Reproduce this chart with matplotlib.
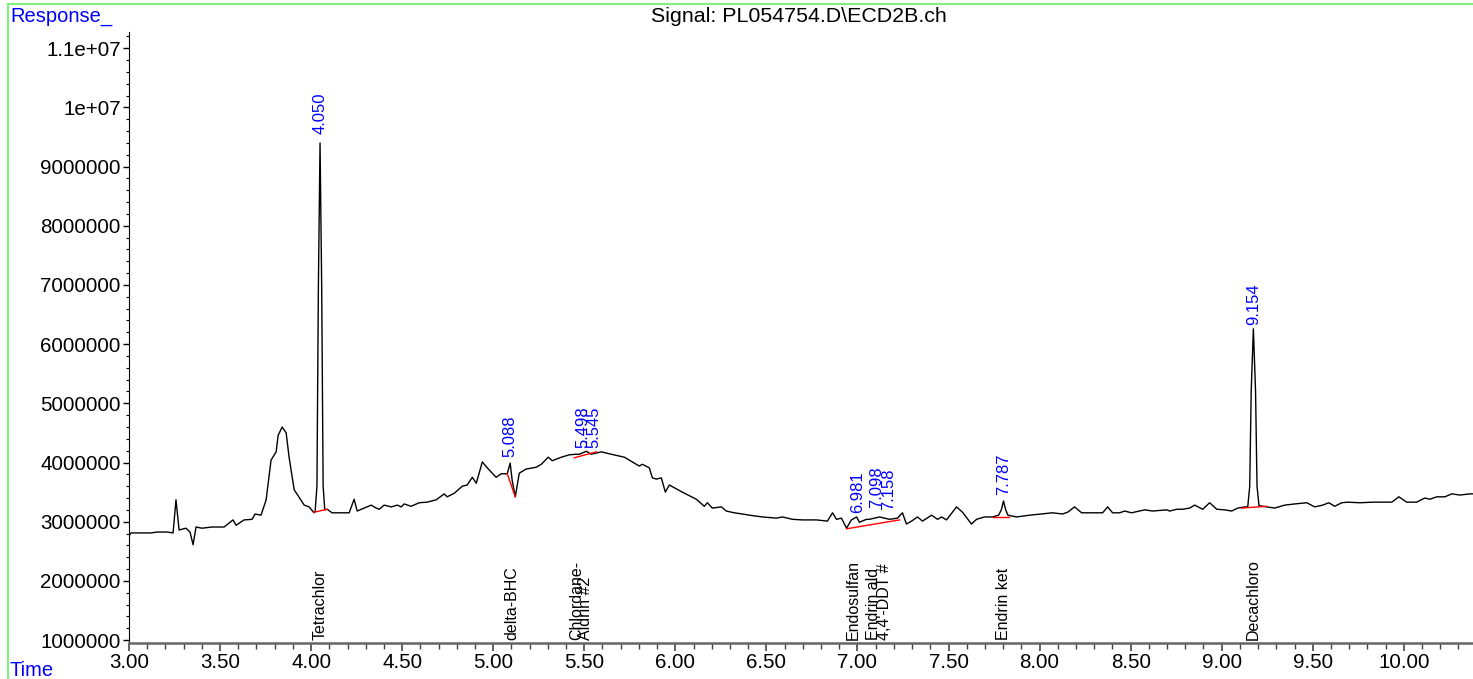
import matplotlib
matplotlib.use("Agg")
import matplotlib.pyplot as plt
from matplotlib.ticker import MultipleLocator, FuncFormatter
from matplotlib.lines import Line2D

plt.rcParams['font.family'] = ['Liberation Sans', 'DejaVu Sans']

# chromatogram trace (time in min, response)
time = [3.000, 3.011, 3.055, 3.121, 3.154, 3.209, 3.242, 3.258, 3.275, 3.313,
        3.335, 3.352, 3.368, 3.401, 3.456, 3.522, 3.571, 3.588, 3.632, 3.676,
        3.692, 3.725, 3.753, 3.780, 3.808, 3.819, 3.841, 3.863, 3.879, 3.907,
        3.962, 3.989, 4.016, 4.022, 4.032, 4.040, 4.049, 4.058, 4.066, 4.075,
        4.088, 4.115, 4.170, 4.209, 4.236, 4.253, 4.291, 4.330, 4.357, 4.374,
        4.401, 4.440, 4.473, 4.495, 4.511, 4.549, 4.593, 4.637, 4.687, 4.731,
        4.747, 4.786, 4.830, 4.857, 4.885, 4.907, 4.940, 4.967, 5.016, 5.044,
        5.077, 5.093, 5.104, 5.121, 5.143, 5.181, 5.236, 5.264, 5.302, 5.324,
        5.374, 5.418, 5.456, 5.473, 5.511, 5.538, 5.593, 5.648, 5.720, 5.764,
        5.802, 5.819, 5.857, 5.874, 5.896, 5.923, 5.945, 5.967, 6.038, 6.115,
        6.159, 6.176, 6.203, 6.253, 6.280, 6.324, 6.368, 6.407, 6.478, 6.555,
        6.588, 6.643, 6.698, 6.775, 6.835, 6.863, 6.885, 6.912, 6.940, 6.967,
        6.995, 7.011, 7.049, 7.066, 7.121, 7.176, 7.220, 7.247, 7.269, 7.297,
        7.330, 7.357, 7.407, 7.440, 7.462, 7.489, 7.544, 7.577, 7.626, 7.654,
        7.698, 7.742, 7.775, 7.790, 7.802, 7.814, 7.826, 7.874, 7.945, 8.011,
        8.071, 8.126, 8.154, 8.192, 8.231, 8.291, 8.346, 8.374, 8.401, 8.440,
        8.467, 8.505, 8.577, 8.621, 8.698, 8.714, 8.753, 8.786, 8.824, 8.852,
        8.896, 8.934, 8.973, 9.016, 9.055, 9.088, 9.126, 9.143, 9.154, 9.162,
        9.174, 9.186, 9.194, 9.205, 9.247, 9.291, 9.346, 9.401, 9.467, 9.511,
        9.555, 9.588, 9.621, 9.659, 9.692, 9.758, 9.830, 9.885, 9.934, 9.973,
        10.016, 10.071, 10.115, 10.143, 10.181, 10.225, 10.264, 10.308, 10.363, 10.380]
response = [2.76e6, 2.81e6, 2.81e6, 2.81e6, 2.825e6, 2.825e6, 2.81e6, 3.37e6, 2.86e6, 2.89e6,
            2.825e6, 2.61e6, 2.91e6, 2.89e6, 2.91e6, 2.91e6, 3.03e6, 2.94e6, 3.03e6, 3.04e6,
            3.13e6, 3.11e6, 3.37e6, 4.04e6, 4.18e6, 4.46e6, 4.60e6, 4.50e6, 4.09e6, 3.54e6,
            3.28e6, 3.25e6, 3.15e6, 3.17e6, 3.60e6, 7.00e6, 9.40e6, 7.00e6, 3.60e6, 3.20e6,
            3.21e6, 3.15e6, 3.15e6, 3.15e6, 3.38e6, 3.18e6, 3.23e6, 3.28e6, 3.23e6, 3.21e6,
            3.28e6, 3.25e6, 3.28e6, 3.25e6, 3.30e6, 3.26e6, 3.32e6, 3.33e6, 3.37e6, 3.47e6,
            3.42e6, 3.48e6, 3.60e6, 3.62e6, 3.75e6, 3.65e6, 4.01e6, 3.91e6, 3.75e6, 3.81e6,
            3.81e6, 3.99e6, 3.70e6, 3.42e6, 3.82e6, 3.89e6, 3.92e6, 3.97e6, 4.09e6, 4.03e6,
            4.09e6, 4.13e6, 4.14e6, 4.14e6, 4.19e6, 4.14e6, 4.18e6, 4.14e6, 4.09e6, 4.01e6,
            3.94e6, 3.97e6, 3.91e6, 3.74e6, 3.72e6, 3.74e6, 3.50e6, 3.62e6, 3.50e6, 3.38e6,
            3.26e6, 3.32e6, 3.23e6, 3.25e6, 3.18e6, 3.15e6, 3.13e6, 3.11e6, 3.08e6, 3.06e6,
            3.08e6, 3.04e6, 3.03e6, 3.03e6, 3.01e6, 3.15e6, 3.04e6, 3.06e6, 2.89e6, 3.03e6,
            3.08e6, 2.99e6, 3.04e6, 3.04e6, 3.08e6, 3.04e6, 3.06e6, 3.15e6, 2.96e6, 3.01e6,
            3.08e6, 3.01e6, 3.11e6, 3.04e6, 3.08e6, 3.03e6, 3.25e6, 3.16e6, 2.96e6, 3.04e6,
            3.08e6, 3.08e6, 3.11e6, 3.20e6, 3.35e6, 3.20e6, 3.11e6, 3.08e6, 3.11e6, 3.13e6,
            3.15e6, 3.13e6, 3.16e6, 3.25e6, 3.15e6, 3.15e6, 3.15e6, 3.25e6, 3.15e6, 3.15e6,
            3.18e6, 3.15e6, 3.20e6, 3.18e6, 3.20e6, 3.18e6, 3.21e6, 3.21e6, 3.23e6, 3.28e6,
            3.21e6, 3.32e6, 3.21e6, 3.20e6, 3.18e6, 3.23e6, 3.25e6, 3.25e6, 3.60e6, 5.20e6,
            6.26e6, 5.20e6, 3.60e6, 3.27e6, 3.25e6, 3.23e6, 3.28e6, 3.30e6, 3.32e6, 3.25e6,
            3.28e6, 3.32e6, 3.26e6, 3.32e6, 3.33e6, 3.32e6, 3.33e6, 3.33e6, 3.33e6, 3.42e6,
            3.33e6, 3.33e6, 3.40e6, 3.38e6, 3.42e6, 3.42e6, 3.47e6, 3.45e6, 3.47e6, 3.47e6]

# integration baselines (start time, end time, start resp, end resp)
base_t0 = [4.016, 5.077, 5.445, 6.940, 7.742, 9.110]
base_t1 = [4.088, 5.121, 5.566, 7.231, 7.830, 9.247]
base_r0 = [3.16e6, 3.81e6, 4.08e6, 2.88e6, 3.08e6, 3.23e6]
base_r1 = [3.21e6, 3.42e6, 4.18e6, 3.03e6, 3.08e6, 3.26e6]

# retention time labels
rt_text = ["4.050", "5.088", "5.498", "5.545", "6.981", "7.098", "7.158", "7.787", "9.154"]
rt_x = [4.049, 5.093, 5.495, 5.555, 7.000, 7.104, 7.170, 7.802, 9.176]
rt_y = [9.55e6, 4.09e6, 4.24e6, 4.24e6, 3.15e6, 3.23e6, 3.20e6, 3.45e6, 6.33e6]

# compound names
cmp_text = ["Tetrachlor", "delta-BHC", "Chlordane-", "Aldrin #2", "Endosulfan",
            "Endrin ald", "4,4'-DDT #", "Endrin ket", "Decachloro"]
cmp_x = [4.049, 5.104, 5.456, 5.505, 6.978, 7.088, 7.148, 7.802, 9.176]

fig = plt.figure(figsize=(14.73, 6.79), dpi=100)
ax = fig.add_axes([129 / 1473, 36 / 679, 1 - 129 / 1473, 611 / 679])

ax.plot(time, response, color='black', lw=1.0)
for t0, t1, r0, r1 in zip(base_t0, base_t1, base_r0, base_r1):
    ax.plot([t0, t1], [r0, r1], color='red', lw=1.0)

for s, x, y in zip(rt_text, rt_x, rt_y):
    ax.text(x, y, s, rotation=90, ha='center', va='bottom', color='blue', fontsize=12)
for s, x in zip(cmp_text, cmp_x):
    ax.text(x, 1.0e6, s, rotation=90, ha='center', va='bottom', color='black', fontsize=11.5)

ax.set_xlim(3.0, 10.38)
ax.set_ylim(0.95e6, 1.1275e7)
ax.xaxis.set_major_locator(MultipleLocator(0.5))
ax.xaxis.set_minor_locator(MultipleLocator(0.1))
ax.yaxis.set_major_locator(MultipleLocator(1e6))
ax.yaxis.set_minor_locator(MultipleLocator(2e5))
ax.xaxis.set_major_formatter(FuncFormatter(lambda v, p: '%.2f' % v))
ax.yaxis.set_major_formatter(FuncFormatter(lambda v, p: '%.7g' % v))

ax.spines['top'].set_visible(False)
ax.spines['right'].set_visible(False)
ax.spines['bottom'].set_color('#666666')
ax.spines['bottom'].set_linewidth(1.8)
ax.tick_params(axis='x', which='major', length=6, width=1.2, color='#444444', labelsize=14.8, pad=1)
ax.tick_params(axis='x', which='minor', length=4, width=1, color='#444444')
ax.tick_params(axis='y', which='major', length=4, width=1, labelsize=14.8, pad=2)
ax.tick_params(axis='y', which='minor', length=2, width=0.8)

fig.text(10 / 1473, 1 - 17 / 679, "Response_", color='blue', fontsize=14.5, ha='left', va='center')
fig.text(10 / 1473, 1 - 670 / 679, "Time", color='blue', fontsize=14.5, ha='left', va='center')
fig.text(799 / 1473, 1 - 17 / 679, "Signal: PL054754.D\\ECD2B.ch", fontsize=15.4, ha='center', va='center')

# green frame
fig.add_artist(Line2D([8 / 1473, 1], [1 - 4 / 679, 1 - 4 / 679], color='#80f080', lw=1.5))
fig.add_artist(Line2D([8 / 1473, 8 / 1473], [0, 1 - 4 / 679], color='#80f080', lw=1.5))

fig.savefig('out.png', dpi=100)
